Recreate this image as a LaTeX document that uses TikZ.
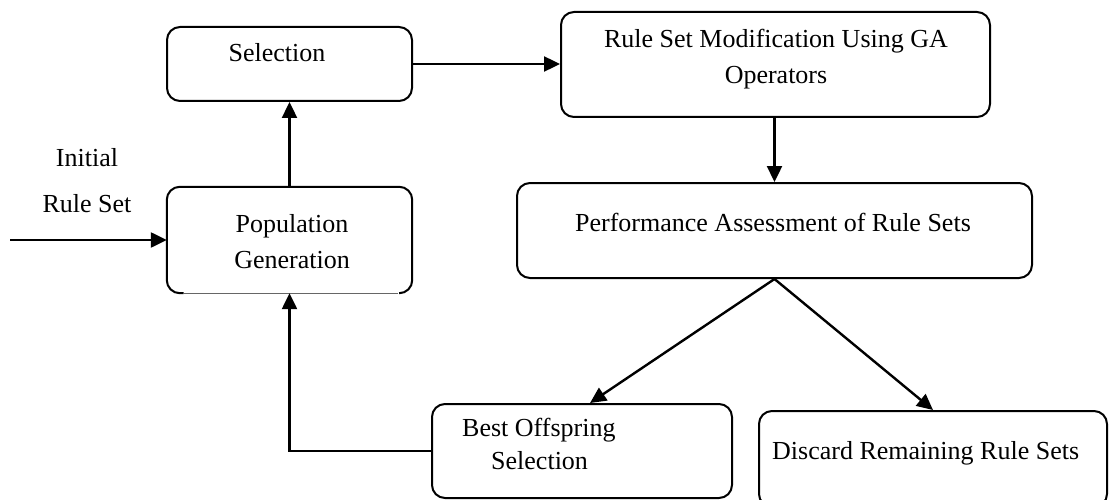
\documentclass[tikz,border=0pt]{standalone}
\usepackage{fontspec}
\setmainfont{Liberation Serif}
\usetikzlibrary{arrows.meta,calc}
\begin{document}
\begin{tikzpicture}[x=1pt,y=-1pt,
  box/.style={draw=black,line width=2pt,rounded corners=13pt,inner sep=0pt},
  lbl/.style={inner sep=0pt,font=\fontsize{26}{36}\selectfont},
  arr/.style={line width=2.4pt,-{Triangle[length=16pt,width=15pt]}}]
\useasboundingbox (0,0) rectangle (1110,500);
% boxes
\node[box,minimum width=245pt,minimum height=74pt] (sel) at (289.5,64) {};
\node[box,minimum width=429pt,minimum height=105pt] (rsm) at (775.5,64.5) {};
\node[box,minimum width=515pt,minimum height=95pt] (pa) at (774.5,230.5) {};
\node[inner sep=0pt,minimum width=245pt,minimum height=106pt] (pop) at (289.5,240) {};
\draw[line width=2pt,rounded corners=13pt] ($(pop.south)+(-106,0)$) -| (pop.north west) -- (pop.north east) |- ($(pop.south)+(110,0)$);
\draw[line width=0.8pt,draw=black!60] ($(pop.south)+(-106,0)$) -- ($(pop.south)+(108,0)$);
\node[box,minimum width=300pt,minimum height=94pt] (best) at (582,451) {};
\node[box,minimum width=348pt,minimum height=96pt] (disc) at (933,459) {};
% texts
\node[lbl] (selT) at (277,53) {Selection};
\node[lbl,align=center] (rsmT) at (776,59) {Rule Set Modification Using GA\\Operators};
\node[lbl] (paT) at (773,222) {Performance Assessment of Rule Sets};
\node[lbl,align=center] (popT) at (292,241.5) {Population\\Generation};
\node[lbl,align=left,anchor=west,font=\fontsize{26}{33}\selectfont] (bestT) at (462,443.5) {Best Offspring\\\hspace*{29pt}Selection};
\node[lbl,anchor=west] (discT) at (772,453) {Discard Remaining Rule Sets};
\node[lbl,align=center,font=\fontsize{26}{46}\selectfont] (initT) at (87,181) {Initial\\Rule Set};
% connectors
\coordinate (inS) at (10,240);
\draw[arr] (inS) -- (pop.west);
\draw[arr] (pop.north) -- (sel.south);
\draw[arr] (sel.east) -- (sel.east -| rsm.west);
\draw[arr] (rsm.south -| pa.north) -- (pa.north);
\draw[arr] (pa.south) -- ($(best.north)+(8,0)$);
\draw[arr] (pa.south) -- (disc.north);
\draw[arr] (best.west) -| (pop.south);
\end{tikzpicture}
\end{document}
